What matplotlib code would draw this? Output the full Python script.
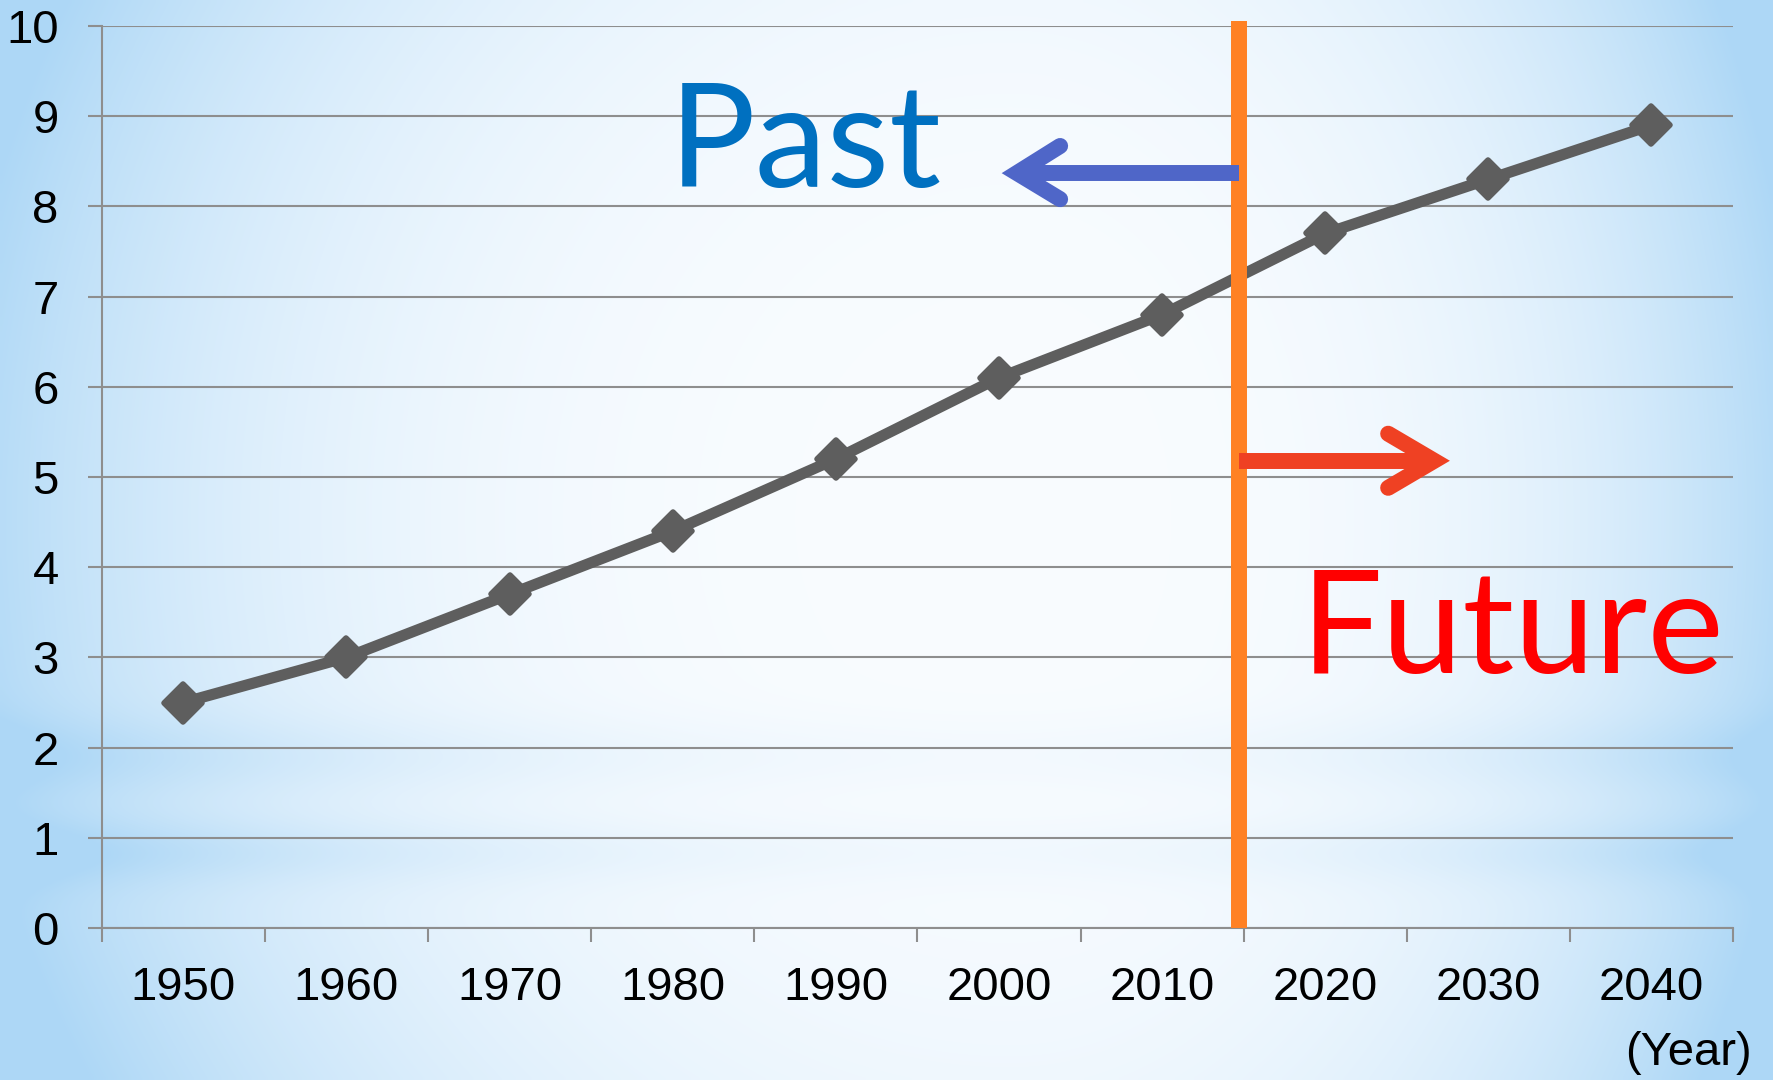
import numpy as np
import matplotlib
matplotlib.use('Agg')
import matplotlib.pyplot as plt
from matplotlib.markers import MarkerStyle
from matplotlib.lines import Line2D
from matplotlib import font_manager

# ---------------- data ----------------
years = ['1950', '1960', '1970', '1980', '1990', '2000', '2010', '2020', '2030', '2040']
values = [2.5, 3.0, 3.7, 4.4, 5.2, 6.1, 6.8, 7.7, 8.3, 8.9]
y_ticks = [0, 1, 2, 3, 4, 5, 6, 7, 8, 9, 10]
past_label = 'Past'
future_label = 'Future'
unit_label = '(Year)'

# ---------------- fonts ----------------
names = {f.name for f in font_manager.fontManager.ttflist}
tick_font = 'Liberation Sans Narrow' if 'Liberation Sans Narrow' in names else 'Liberation Sans'
tick_size = 37 if tick_font == 'Liberation Sans Narrow' else 34
big_font = 'Lato' if 'Lato' in names else 'DejaVu Sans'

W, H, DPI = 1773, 1080, 100
fig = plt.figure(figsize=(W / DPI, H / DPI), dpi=DPI)

# ---------------- background gradient ----------------
nx, ny = 400, 250
gx, gy = np.meshgrid(np.linspace(0, 1, nx), np.linspace(0, 1, ny))  # gy: 0 top -> 1 bottom
sx = np.where(gx < 0.57, 0.60, 0.45)
d = np.sqrt(((gx - 0.57) / sx) ** 2 + ((gy - 0.48) / 1.05) ** 2)
t = np.clip(d, 0, 1.4) ** 3.0
wside = 0.25 + 0.75 * (np.abs(gx - 0.55) / 0.55) ** 1.5
band = (0.25 * np.exp(-((gy - 0.70) / 0.035) ** 2) + 0.30 * np.exp(-((gy - 0.79) / 0.03) ** 2)) * wside
t = np.clip(t + band, 0, 1)
c0 = np.array([0.975, 0.988, 1.0])
c1 = np.array([0.68, 0.845, 0.965])
img = c0[None, None, :] * (1 - t[..., None]) + c1[None, None, :] * t[..., None]
bg = fig.add_axes([0, 0, 1, 1], zorder=-10)
bg.imshow(img, extent=[0, 1, 0, 1], aspect='auto', interpolation='bilinear', origin='upper')
bg.set_xlim(0, 1)
bg.set_ylim(0, 1)
bg.axis('off')

# ---------------- main axes ----------------
L, R, T, B = 101.8, 1733, 26, 928
ax = fig.add_axes([L / W, 1 - B / H, (R - L) / W, (B - T) / H])
ax.patch.set_alpha(0)

grid_c = '#8E8E8E'
x = np.arange(len(years))
ax.set_xlim(-0.5, len(years) - 0.5)
ax.set_ylim(0, 10)

for s in ['top', 'right']:
    ax.spines[s].set_visible(False)
for s in ['left', 'bottom']:
    ax.spines[s].set_color(grid_c)
    ax.spines[s].set_linewidth(1.5)

ax.set_yticks(y_ticks)
ax.set_yticklabels([str(v) for v in y_ticks])
ax.yaxis.grid(True, color=grid_c, linewidth=1.5)
ax.set_axisbelow(True)
ax.tick_params(axis='y', length=10, width=1.5, color=grid_c, pad=21,
               labelsize=tick_size, labelcolor='black')
for lb in ax.get_yticklabels():
    lb.set_fontfamily(tick_font)

# category boundaries as major ticks, labels on minor ticks at centers
ax.set_xticks(np.arange(-0.5, len(years), 1.0))
ax.set_xticklabels([''] * (len(years) + 1))
ax.set_xticks(x, minor=True)
ax.set_xticklabels(years, minor=True)
ax.tick_params(axis='x', which='major', length=10, width=1.5, color=grid_c)
ax.tick_params(axis='x', which='minor', length=0, pad=27, labelsize=tick_size, labelcolor='black')
for lb in ax.get_xticklabels(minor=True):
    lb.set_fontfamily(tick_font)

# data line
mk = MarkerStyle('D', joinstyle='round')
ax.plot(x, values, color='#5E5E5E', linewidth=8, marker=mk, markersize=19,
        markeredgewidth=4, markeredgecolor='#5E5E5E', markerfacecolor='#5E5E5E',
        solid_joinstyle='round', zorder=3)

# orange divider
div_x = 6.47
ax.plot([div_x, div_x], [0, 10.06], color='#FF8124', linewidth=11.5,
        solid_capstyle='butt', clip_on=False, zorder=4)

# arrows (shaft + chevron head)
def arrow(x0, x1, y, tipx, armx, ylo, yhi, color):
    ax.add_line(Line2D([x0, x1], [y, y], color=color, linewidth=11.5,
                       solid_capstyle='butt', zorder=5))
    ax.add_line(Line2D([armx, tipx, armx], [yhi, y, ylo], color=color, linewidth=11.5,
                       solid_capstyle='round', solid_joinstyle='miter', zorder=5))

arrow(div_x, 5.2, 8.37, 5.11, 5.375, 8.08, 8.67, '#4F66C8')
arrow(div_x, 7.6, 5.18, 7.668, 7.386, 4.88, 5.48, '#EF4123')

# big labels
fig.text(669 / W, 1 - 187 / H, past_label, color='#0070C0', fontsize=104,
         fontfamily=big_font, ha='left', va='baseline')
fig.text(1301 / W, 1 - 673 / H, future_label, color='#FF0000', fontsize=104,
         fontfamily=big_font, ha='left', va='baseline')

fig.text(1752 / W, 1 - 1053 / H, unit_label, fontsize=tick_size, fontfamily=tick_font,
         ha='right', va='center', color='black')

fig.savefig('out.png', dpi=DPI)
